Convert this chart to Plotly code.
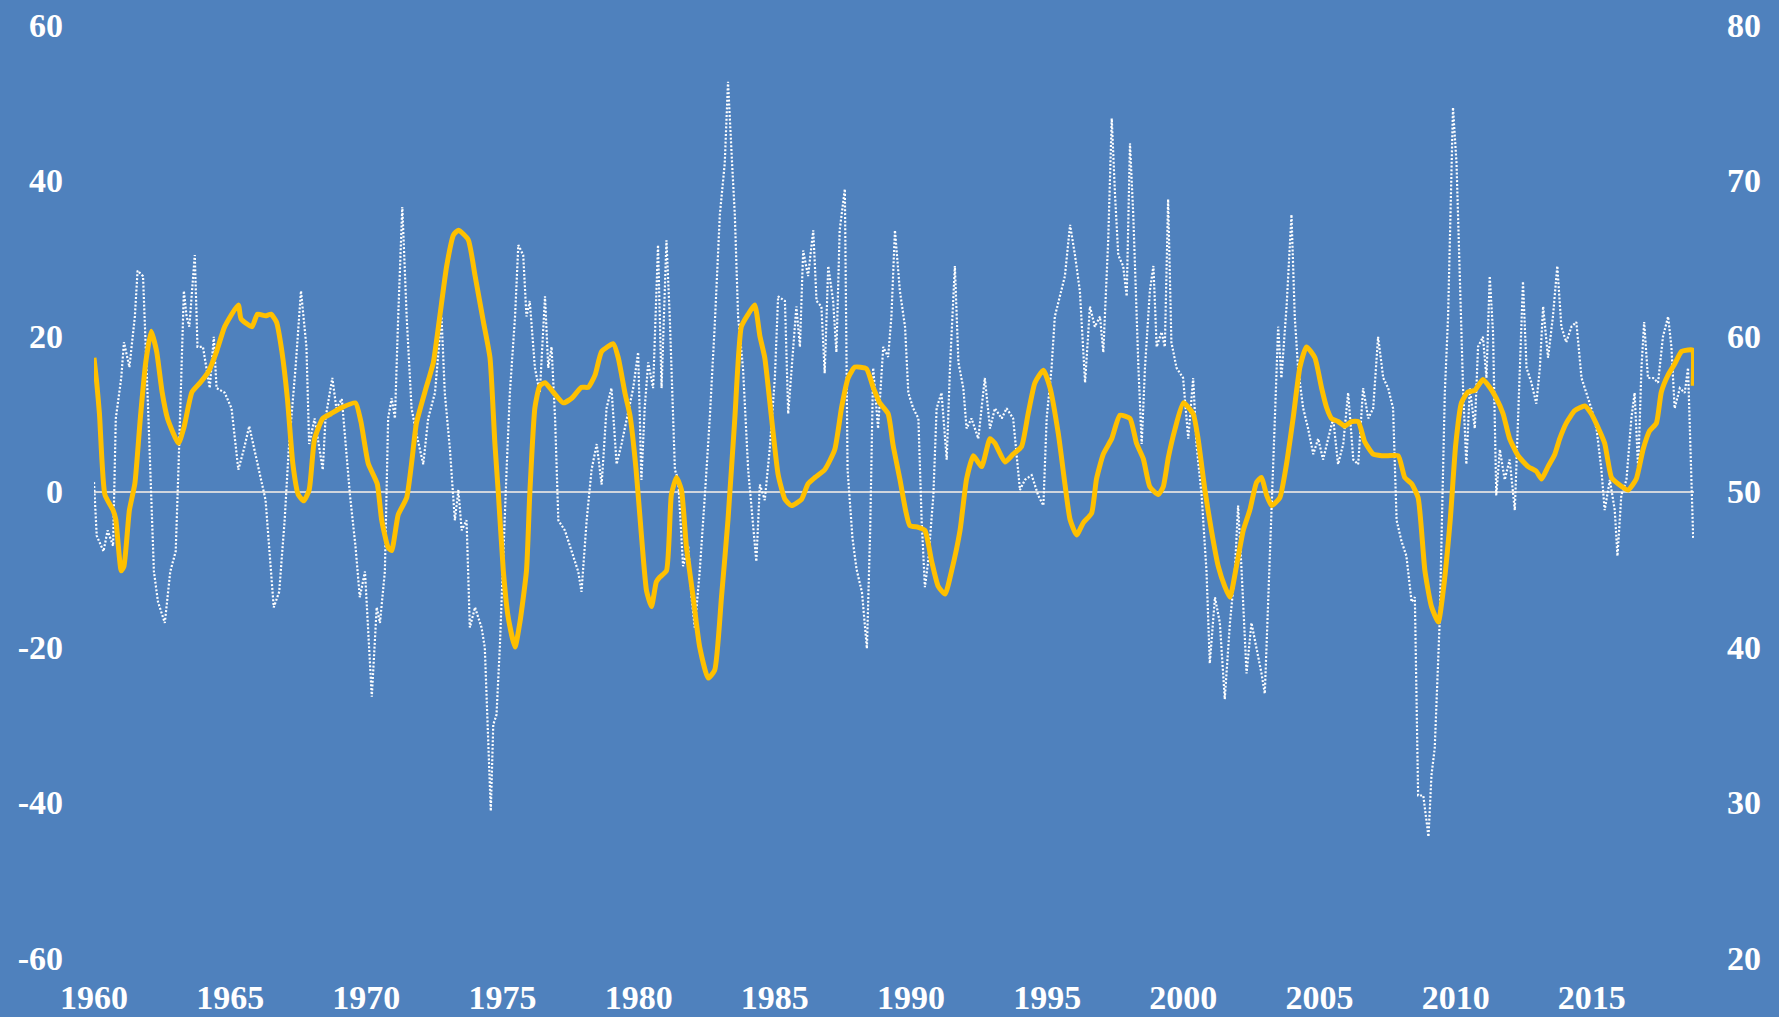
import plotly.graph_objects as go

# Yellow series (right axis, index level)
pmi_years = [1960.0, 1960.1, 1960.2, 1960.4, 1960.7, 1960.8, 1961.0, 1961.1, 1961.3, 1961.5, 1961.7, 1961.9,
             1962.1, 1962.3, 1962.5, 1962.7, 1963.1, 1963.3, 1963.6, 1963.9, 1964.2, 1964.5, 1964.8, 1965.3,
             1965.4, 1965.8, 1966.0, 1966.3, 1966.5, 1966.7, 1966.9, 1967.1, 1967.3, 1967.5, 1967.7, 1967.9,
             1968.1, 1968.4, 1968.7, 1969.1, 1969.6, 1969.8, 1970.07, 1970.4, 1970.56, 1970.8, 1970.93, 1971.17,
             1971.48, 1971.66, 1971.84, 1972.15, 1972.46, 1972.7, 1972.95, 1973.2, 1973.38, 1973.74, 1973.99, 1974.3,
             1974.54, 1974.72, 1974.85, 1975.03, 1975.21, 1975.46, 1975.64, 1975.88, 1976.0, 1976.19, 1976.37, 1976.56,
             1976.86, 1977.23, 1977.54, 1977.9, 1978.15, 1978.4, 1978.64, 1979.07, 1979.25, 1979.5, 1979.68, 1979.9,
             1980.1, 1980.29, 1980.47, 1980.65, 1980.78, 1981.02, 1981.2, 1981.39, 1981.57, 1981.75, 1982.0, 1982.24,
             1982.55, 1982.79, 1983.04, 1983.28, 1983.53, 1983.77, 1984.02, 1984.26, 1984.45, 1984.63, 1984.88, 1985.12,
             1985.37, 1985.61, 1985.98, 1986.22, 1986.47, 1986.83, 1987.2, 1987.45, 1987.69, 1987.94, 1988.36, 1988.61,
             1988.85, 1989.16, 1989.34, 1989.59, 1989.8, 1989.96, 1990.27, 1990.51, 1990.76, 1991.0, 1991.25, 1991.49,
             1991.8, 1992.04, 1992.29, 1992.59, 1992.9, 1993.08, 1993.45, 1993.75, 1994.06, 1994.3, 1994.55, 1994.86,
             1995.1, 1995.41, 1995.65, 1995.84, 1996.08, 1996.33, 1996.63, 1996.81, 1997.06, 1997.37, 1997.67, 1998.04,
             1998.28, 1998.53, 1998.77, 1999.08, 1999.26, 1999.45, 1999.69, 2000.0, 2000.36, 2000.54, 2000.79, 2001.03,
             2001.28, 2001.52, 2001.71, 2001.95, 2002.2, 2002.44, 2002.69, 2002.87, 2003.05, 2003.24, 2003.54, 2003.79,
             2004.03, 2004.28, 2004.52, 2004.83, 2005.07, 2005.26, 2005.44, 2005.68, 2005.93, 2006.17, 2006.42, 2006.66,
             2006.97, 2007.28, 2007.52, 2007.89, 2008.13, 2008.38, 2008.62, 2008.87, 2009.11, 2009.36, 2009.54, 2009.8,
             2010.0, 2010.21, 2010.45, 2010.7, 2011.0, 2011.25, 2011.49, 2011.74, 2011.98, 2012.29, 2012.66, 2012.96,
             2013.15, 2013.39, 2013.64, 2013.82, 2014.06, 2014.37, 2014.74, 2014.98, 2015.23, 2015.47, 2015.72, 2015.96,
             2016.33, 2016.63, 2016.88, 2017.12, 2017.37, 2017.55, 2017.8, 2018.04, 2018.29, 2018.53, 2018.69, 2018.72]
pmi_values = [58.6, 57.0, 55.0, 49.8, 48.8, 48.2, 44.9, 45.2, 48.8, 50.5, 54.7, 58.3,
              60.3, 59.0, 56.4, 54.7, 53.1, 54.1, 56.4, 57.0, 57.7, 59.0, 60.6, 62.0,
              61.1, 60.6, 61.4, 61.3, 61.4, 60.9, 59.0, 56.0, 51.8, 49.8, 49.4, 50.1,
              53.4, 54.7, 55.0, 55.4, 55.7, 54.5, 51.8, 50.5, 48.2, 46.4, 46.2, 48.5,
              49.6, 51.8, 54.4, 56.4, 58.3, 61.3, 64.5, 66.5, 66.8, 66.2, 63.9, 60.9,
              58.6, 53.1, 49.8, 44.9, 41.9, 40.0, 41.6, 44.9, 49.8, 55.4, 56.8, 57.0,
              56.4, 55.7, 56.0, 56.7, 56.7, 57.5, 59.0, 59.5, 58.6, 56.3, 54.9, 51.5,
              47.2, 43.6, 42.6, 44.2, 44.5, 44.9, 49.8, 50.9, 50.1, 46.5, 43.2, 40.0,
              38.0, 38.5, 43.2, 48.2, 54.7, 60.6, 61.4, 62.0, 60.0, 58.6, 54.7, 51.1,
              49.5, 49.1, 49.5, 50.5, 50.9, 51.4, 52.7, 55.4, 57.3, 58.0, 57.9, 56.7,
              55.7, 55.0, 53.0, 50.8, 48.8, 47.8, 47.7, 47.5, 45.5, 43.9, 43.4, 44.9,
              47.5, 50.8, 52.3, 51.6, 53.4, 53.1, 51.9, 52.4, 52.9, 55.0, 57.0, 57.8,
              56.7, 53.7, 50.5, 48.2, 47.2, 48.0, 48.6, 50.8, 52.4, 53.4, 54.9, 54.7,
              53.1, 52.1, 50.3, 49.8, 50.3, 52.2, 54.0, 55.7, 55.0, 53.4, 50.1, 47.5,
              45.2, 43.9, 43.2, 45.2, 47.5, 48.8, 50.6, 50.9, 49.8, 49.1, 49.6, 51.8,
              54.7, 58.0, 59.3, 58.6, 56.7, 55.4, 54.7, 54.5, 54.2, 54.5, 54.5, 53.2,
              52.4, 52.3, 52.3, 52.3, 50.9, 50.5, 49.6, 44.9, 42.6, 41.6, 43.6, 48.2,
              53.0, 55.7, 56.4, 56.5, 57.2, 56.7, 56.0, 55.0, 53.4, 52.3, 51.6, 51.3,
              50.8, 51.6, 52.4, 53.4, 54.4, 55.2, 55.5, 55.0, 54.1, 53.1, 50.9, 50.5,
              50.1, 50.8, 52.7, 53.9, 54.4, 56.4, 57.5, 58.2, 59.0, 59.1, 59.1, 56.8]

# White dotted series (left axis, % change)
chg_years = [1960.0, 1960.1, 1960.35, 1960.5, 1960.7, 1960.8, 1961.0, 1961.1, 1961.3, 1961.5, 1961.6, 1961.8,
             1962.0, 1962.2, 1962.35, 1962.6, 1962.8, 1963.0, 1963.1, 1963.3, 1963.4, 1963.5, 1963.7, 1963.8,
             1964.0, 1964.25, 1964.4, 1964.5, 1964.8, 1965.05, 1965.3, 1965.5, 1965.7, 1966.0, 1966.3, 1966.5,
             1966.6, 1966.8, 1967.0, 1967.15, 1967.4, 1967.6, 1967.8, 1967.9, 1968.1, 1968.4, 1968.5, 1968.75,
             1968.9, 1969.1, 1969.4, 1969.6, 1969.76, 1969.95, 1970.2, 1970.38, 1970.5, 1970.68, 1970.8, 1970.93,
             1971.05, 1971.17, 1971.32, 1971.48, 1971.66, 1971.84, 1972.09, 1972.27, 1972.52, 1972.76, 1972.88, 1973.07,
             1973.25, 1973.38, 1973.5, 1973.68, 1973.8, 1973.99, 1974.23, 1974.35, 1974.48, 1974.57, 1974.66, 1974.78,
             1974.9, 1975.03, 1975.15, 1975.27, 1975.46, 1975.58, 1975.76, 1975.88, 1976.0, 1976.19, 1976.37, 1976.56,
             1976.68, 1976.8, 1976.93, 1977.05, 1977.29, 1977.54, 1977.78, 1977.9, 1978.09, 1978.27, 1978.46, 1978.64,
             1978.82, 1979.0, 1979.19, 1979.37, 1979.56, 1979.8, 1979.98, 1980.1, 1980.22, 1980.35, 1980.53, 1980.71,
             1980.84, 1981.02, 1981.14, 1981.33, 1981.45, 1981.63, 1981.82, 1981.94, 1982.06, 1982.24, 1982.43, 1982.61,
             1982.79, 1982.98, 1983.16, 1983.28, 1983.43, 1983.53, 1983.65, 1983.83, 1984.02, 1984.2, 1984.32, 1984.45,
             1984.63, 1984.81, 1985.0, 1985.12, 1985.37, 1985.49, 1985.61, 1985.79, 1985.92, 1986.04, 1986.22, 1986.41,
             1986.53, 1986.71, 1986.83, 1986.96, 1987.14, 1987.26, 1987.38, 1987.57, 1987.67, 1987.85, 1988.0, 1988.2,
             1988.38, 1988.5, 1988.61, 1988.79, 1988.98, 1989.16, 1989.28, 1989.41, 1989.59, 1989.78, 1989.9, 1990.08,
             1990.27, 1990.39, 1990.51, 1990.63, 1990.82, 1990.94, 1991.12, 1991.31, 1991.43, 1991.61, 1991.74, 1991.92,
             1992.04, 1992.22, 1992.47, 1992.71, 1992.9, 1993.08, 1993.33, 1993.51, 1993.75, 1994.0, 1994.18, 1994.43,
             1994.67, 1994.86, 1994.98, 1995.16, 1995.28, 1995.47, 1995.65, 1995.84, 1996.02, 1996.2, 1996.39, 1996.57,
             1996.75, 1996.94, 1997.06, 1997.24, 1997.37, 1997.49, 1997.61, 1997.79, 1997.92, 1998.04, 1998.16, 1998.35,
             1998.47, 1998.59, 1998.77, 1998.9, 1999.02, 1999.2, 1999.32, 1999.44, 1999.56, 1999.75, 1999.99, 2000.18,
             2000.36, 2000.48, 2000.67, 2000.85, 2000.97, 2001.16, 2001.34, 2001.52, 2001.71, 2001.89, 2002.01, 2002.14,
             2002.32, 2002.5, 2002.69, 2002.87, 2002.99, 2003.11, 2003.24, 2003.36, 2003.48, 2003.6, 2003.79, 2003.97,
             2004.09, 2004.21, 2004.4, 2004.58, 2004.77, 2004.95, 2005.13, 2005.32, 2005.5, 2005.68, 2005.87, 2006.05,
             2006.24, 2006.42, 2006.6, 2006.79, 2006.97, 2007.15, 2007.34, 2007.52, 2007.7, 2007.83, 2008.01, 2008.19,
             2008.38, 2008.5, 2008.62, 2008.81, 2009.0, 2009.11, 2009.23, 2009.41, 2009.6, 2009.72, 2009.9, 2010.03,
             2010.15, 2010.27, 2010.39, 2010.52, 2010.7, 2010.82, 2011.0, 2011.13, 2011.25, 2011.37, 2011.49, 2011.62,
             2011.8, 2011.98, 2012.17, 2012.35, 2012.47, 2012.6, 2012.78, 2012.96, 2013.09, 2013.21, 2013.39, 2013.57,
             2013.73, 2013.88, 2014.06, 2014.25, 2014.43, 2014.62, 2014.8, 2014.98, 2015.17, 2015.35, 2015.47, 2015.66,
             2015.84, 2015.94, 2016.08, 2016.27, 2016.45, 2016.57, 2016.7, 2016.82, 2016.92, 2017.06, 2017.25, 2017.43,
             2017.61, 2017.8, 2017.92, 2018.04, 2018.23, 2018.41, 2018.53, 2018.63, 2018.72]
chg_values = [1.2, -5.7, -7.7, -5.0, -7.0, 9.4, 14.6, 19.2, 16.0, 22.5, 28.4, 27.7,
              9.4, -10.3, -14.2, -16.9, -10.3, -7.7, 2.8, 25.8, 22.5, 21.2, 30.4, 18.6,
              18.6, 13.3, 19.9, 13.3, 12.7, 10.7, 2.8, 5.4, 8.4, 3.5, -1.1, -10.3,
              -14.9, -12.9, -3.7, 5.4, 15.9, 25.8, 18.6, 6.1, 9.4, 2.8, 9.4, 14.6,
              10.7, 11.9, -0.5, -7.0, -13.6, -10.3, -26.4, -14.9, -16.9, -10.3, 9.4, 12.0,
              9.4, 22.5, 36.6, 22.5, 10.7, 7.4, 3.5, 9.4, 12.7, 22.5, 12.7, 5.4,
              -3.7, 0.2, -5.0, -3.7, -17.5, -14.9, -17.5, -20.1, -31.9, -41.1, -30.0, -28.7,
              -20.1, -7.0, 2.8, 12.7, 22.5, 31.7, 30.4, 22.5, 24.5, 15.9, 12.7, 25.1,
              15.9, 18.6, 9.4, -3.7, -5.0, -7.7, -10.3, -12.9, -3.7, 2.8, 6.1, 0.9,
              10.7, 13.3, 3.5, 6.1, 9.4, 13.3, 17.9, 1.5, 10.7, 16.6, 13.3, 31.7,
              13.3, 32.3, 22.5, 2.8, 1.5, -9.6, -7.0, -13.6, -17.5, -10.3, -0.5, 9.4,
              21.2, 35.6, 42.2, 52.7, 42.2, 35.6, 22.5, 15.9, 2.8, -3.7, -9.0, 0.9,
              -1.1, 5.4, 14.6, 25.1, 24.5, 10.0, 15.9, 23.8, 18.6, 31.0, 27.7, 33.6,
              24.5, 23.8, 15.2, 29.0, 24.5, 17.9, 33.6, 38.9, 2.8, -6.0, -10.0, -13.0,
              -20.2, -5.0, 15.9, 8.1, 18.6, 17.3, 22.5, 33.6, 25.8, 21.2, 12.7, 10.7,
              9.4, -3.7, -12.3, -9.0, -0.5, 10.7, 12.7, 4.1, 15.9, 29.0, 16.6, 13.3,
              8.1, 9.4, 6.8, 14.6, 8.1, 10.7, 9.4, 10.7, 9.4, 0.2, 1.5, 2.1,
              -0.5, -1.8, 9.4, 15.9, 22.5, 25.1, 27.7, 34.3, 30.4, 25.8, 14.0, 23.8,
              21.2, 22.5, 17.9, 32.3, 48.0, 38.2, 30.4, 29.0, 25.1, 44.8, 35.6, 15.9,
              6.1, 15.9, 25.8, 29.0, 18.6, 20.5, 18.6, 37.6, 19.2, 15.9, 14.6, 6.8,
              14.6, 6.1, -0.5, -10.3, -22.1, -13.6, -16.9, -26.7, -16.9, -10.3, -1.8, -10.3,
              -23.4, -16.9, -20.1, -23.4, -26.0, -13.6, -2.4, 9.4, 21.2, 14.6, 23.8, 35.6,
              22.5, 15.9, 10.7, 8.1, 4.8, 6.8, 4.1, 6.8, 9.4, 3.5, 6.1, 12.7,
              4.1, 3.5, 13.3, 9.4, 10.7, 19.9, 14.6, 13.3, 10.7, -3.7, -6.4, -8.3,
              -14.2, -13.6, -39.1, -39.1, -44.4, -36.5, -33.0, -16.9, 12.7, 22.5, 49.4, 42.2,
              29.0, 13.3, 3.5, 13.3, 8.1, 18.6, 19.9, 14.6, 27.7, 20.5, -0.5, 5.4,
              1.5, 4.1, -2.4, 15.9, 27.0, 15.9, 14.0, 11.3, 15.9, 23.8, 17.2, 22.5,
              29.0, 21.2, 19.2, 21.2, 21.8, 14.6, 12.7, 10.7, 8.1, 2.8, -2.4, 1.5,
              -2.4, -8.3, -0.5, 1.5, 9.4, 12.7, 2.8, 15.9, 21.8, 14.6, 14.6, 14.0,
              19.9, 22.5, 18.6, 10.7, 13.3, 12.7, 15.9, 5.4, -6.0]

x_tick_years = [1960, 1965, 1970, 1975, 1980, 1985, 1990, 1995, 2000, 2005, 2010, 2015]
left_ticks = [-60, -40, -20, 0, 20, 40, 60]
right_ticks = [20, 30, 40, 50, 60, 70, 80]

BG = "#4F81BD"
FONT = dict(family="Liberation Serif", size=34, color="white", weight="bold")

fig = go.Figure()
fig.add_trace(go.Scatter(
    x=chg_years, y=chg_values, mode="lines", yaxis="y",
    line=dict(color="white", width=2.2, dash="2px,1.8px"),
    showlegend=False, hoverinfo="skip"))
fig.add_trace(go.Scatter(
    x=pmi_years, y=pmi_values, mode="lines", yaxis="y2",
    line=dict(color="#FFC000", width=5, shape="spline", smoothing=0.5),
    showlegend=False, hoverinfo="skip"))

fig.update_layout(
    width=1779, height=1017,
    paper_bgcolor=BG, plot_bgcolor=BG,
    margin=dict(l=94, r=85, t=25, b=59, autoexpand=False),
    showlegend=False,
    xaxis=dict(range=[1960, 2018.75], tickvals=x_tick_years, ticktext=[str(v) for v in x_tick_years],
               showgrid=False, zeroline=False, showline=False, ticks="", tickfont=FONT,
               ticklabelstandoff=16, automargin=False),
    yaxis=dict(range=[-60, 60], tickvals=left_ticks, ticktext=[str(v) for v in left_ticks],
               showgrid=False, zeroline=True, zerolinecolor="#D0D5DD", zerolinewidth=1.5,
               showline=False, ticks="", tickfont=FONT, ticklabelstandoff=30, automargin=False),
    yaxis2=dict(range=[20, 80], tickvals=right_ticks, ticktext=[str(v) for v in right_ticks],
                overlaying="y", side="right", showgrid=False, zeroline=False, showline=False,
                ticks="", tickfont=FONT, ticklabelstandoff=32, automargin=False),
)

fig.write_html("out.html", config={"displayModeBar": False},
               post_script="document.body.style.margin='0';document.body.style.overflow='hidden';")
